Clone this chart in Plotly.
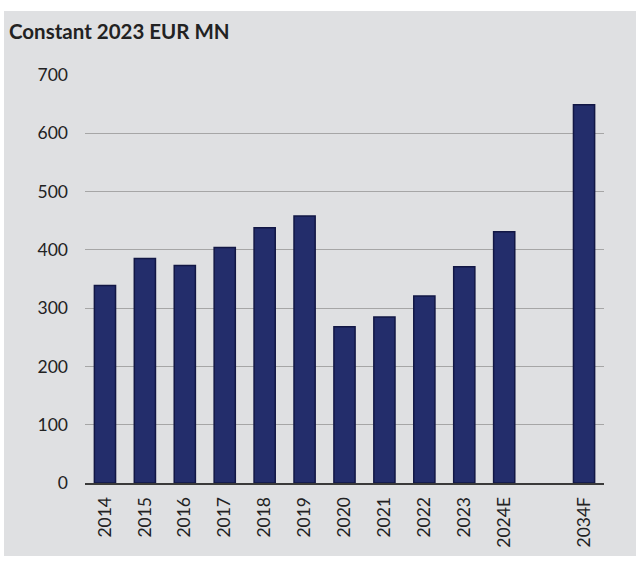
import plotly.graph_objects as go

categories = ["2014", "2015", "2016", "2017", "2018", "2019", "2020", "2021",
              "2022", "2023", "2024E", " ", "2034F"]
values = [339, 385, 373, 404, 438, 458, 268, 285, 321, 371, 431, None, 649]
y_ticks = [0, 100, 200, 300, 400, 500, 600, 700]
title_text = "Constant 2023 EUR MN"

W, H = 636, 570
L, R, T, B = 85, 32, 75, 87
pw, ph = W - L - R, H - T - B

def px(x):
    return (x - L) / pw

def py(y):
    return (H - B - y) / ph

fig = go.Figure(go.Bar(
    x=categories, y=values,
    marker=dict(color="#232d6b", line=dict(color="#121745", width=1.5)),
    width=0.53,
))

fig.update_layout(
    width=W, height=H,
    margin=dict(l=L, r=R, t=T, b=B),
    paper_bgcolor="white",
    plot_bgcolor="rgba(0,0,0,0)",
    font=dict(family="Lato", size=17, color="#222222"),
    showlegend=False,
    shapes=[dict(type="rect", xref="paper", yref="paper",
                 x0=px(4), x1=px(640), y0=py(556), y1=py(11),
                 fillcolor="#dfe0e2", line=dict(width=0), layer="below")],
    title=dict(text="<b>" + title_text + "</b>", xref="container", yref="container",
               x=9 / W, xanchor="left", y=1 - 32 / H, yanchor="middle",
               font=dict(family="Lato", size=20.5, color="#222222")),
)

fig.update_xaxes(
    type="category", range=[-0.5, 12.5],
    tickangle=-90, showgrid=False,
    showline=True, linecolor="#3a3a3a", linewidth=2,
    ticks="", ticklabelstandoff=5,
    tickfont=dict(size=17.5),
)
fig.update_yaxes(
    range=[0, 700], tickvals=y_ticks,
    showgrid=True, gridcolor="#a6a6a6", gridwidth=1,
    zeroline=False, showline=False, ticks="",
    ticklabelstandoff=16,
    tickfont=dict(size=17.5),
)

fig.write_html("out.html", config={"displayModeBar": False},
               post_script="document.body.style.margin='0';")
